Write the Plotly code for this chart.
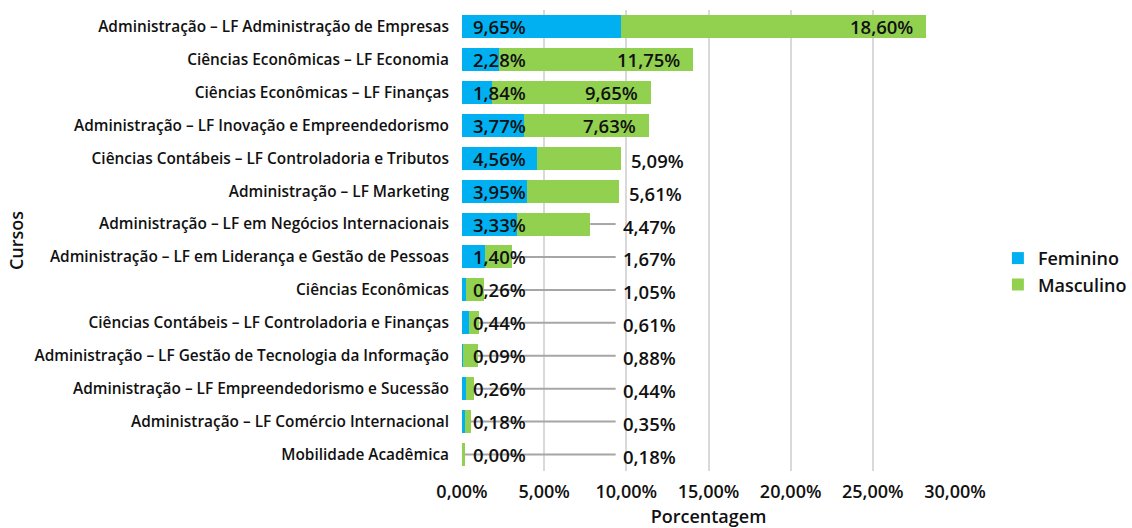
import plotly.graph_objects as go

cursos = [
    "Administração – LF Administração de Empresas",
    "Ciências Econômicas – LF Economia",
    "Ciências Econômicas – LF Finanças",
    "Administração – LF Inovação e Empreendedorismo",
    "Ciências Contábeis – LF Controladoria e Tributos",
    "Administração – LF Marketing",
    "Administração – LF em Negócios Internacionais",
    "Administração – LF em Liderança e Gestão de Pessoas",
    "Ciências Econômicas",
    "Ciências Contábeis – LF Controladoria e Finanças",
    "Administração – LF Gestão de Tecnologia da Informação",
    "Administração – LF Empreendedorismo e Sucessão",
    "Administração – LF Comércio Internacional",
    "Mobilidade Acadêmica",
]
feminino = [9.65, 2.28, 1.84, 3.77, 4.56, 3.95, 3.33, 1.40, 0.26, 0.44, 0.09, 0.26, 0.18, 0.00]
masculino = [18.60, 11.75, 9.65, 7.63, 5.09, 5.61, 4.47, 1.67, 1.05, 0.61, 0.88, 0.44, 0.35, 0.18]
x_ticks = [0, 5, 10, 15, 20, 25, 30]

BLUE = "#00B0F0"
GREEN = "#92D050"
FONT = "Open Sans"
fmt = lambda v: f"{v:.2f}".replace(".", ",") + "%"

fig = go.Figure()
fig.add_bar(y=cursos, x=feminino, name="Feminino", orientation="h", legendgroup="f",
            marker=dict(color=BLUE, line=dict(width=0)))
fig.add_bar(y=cursos, x=masculino, name="Masculino", orientation="h", legendgroup="m",
            marker=dict(color=GREEN, line=dict(width=0)))

lab_font = dict(family=FONT, size=18.5, color="#111", weight=600)
annotations = []
shapes = []
for c, f, m in zip(cursos, feminino, masculino):
    total = f + m
    annotations.append(dict(x=0, y=c, xref="x", yref="y", text=fmt(f), showarrow=False,
                            xanchor="left", xshift=9, font=lab_font))
    if m > 7:
        annotations.append(dict(x=total, y=c, xref="x", yref="y", text=fmt(m), showarrow=False,
                                xanchor="right", xshift=-11, font=lab_font))
    else:
        lx = max(total + 0.5, 9.65)
        annotations.append(dict(x=lx, y=c, xref="x", yref="y", text=fmt(m), showarrow=False,
                                xanchor="left", yshift=-2, font=lab_font))
        if lx - total > 1:
            shapes.append(dict(type="line", xref="x", yref="y", x0=total, x1=lx - 0.3,
                               y0=c, y1=c, line=dict(color="#A6A6A6", width=2), layer="above"))

fig.update_layout(
    barmode="stack",
    bargap=0.3,
    width=1132, height=528,
    margin=dict(l=462, r=177, t=10, b=57, autoexpand=False),
    plot_bgcolor="white", paper_bgcolor="white",
    font=dict(family=FONT, color="#111"),
    separators=",.",
    legend=dict(x=1.087, y=0.433, xanchor="left", yanchor="middle", traceorder="normal",
                font=dict(family=FONT, size=18, color="#111", weight=600),
                itemwidth=30, tracegroupgap=10),
    annotations=annotations,
    shapes=shapes,
    xaxis=dict(range=[0, 30], tickvals=x_ticks, ticktext=[fmt(v) for v in x_ticks],
               showgrid=True, gridcolor="#D9D9D9", gridwidth=2, zeroline=False,
               showline=False, ticklabelstandoff=8, automargin=True,
               tickfont=dict(family=FONT, size=18, color="#111", weight=600),
               title=dict(text="Porcentagem", font=dict(family=FONT, size=18, color="#111", weight=600),
                          standoff=9)),
    yaxis=dict(autorange="reversed", showgrid=False, zeroline=False, showline=False,
               ticklabelstandoff=12,
               tickfont=dict(family=FONT, size=15.4, color="#111", weight=600),
               title=dict(text="Cursos", font=dict(family=FONT, size=18, color="#111", weight=600),
                          standoff=6)),
)
fig.write_html("out.html", config={"displayModeBar": False},
               post_script="document.body.style.margin='0';document.body.style.overflow='hidden';")
